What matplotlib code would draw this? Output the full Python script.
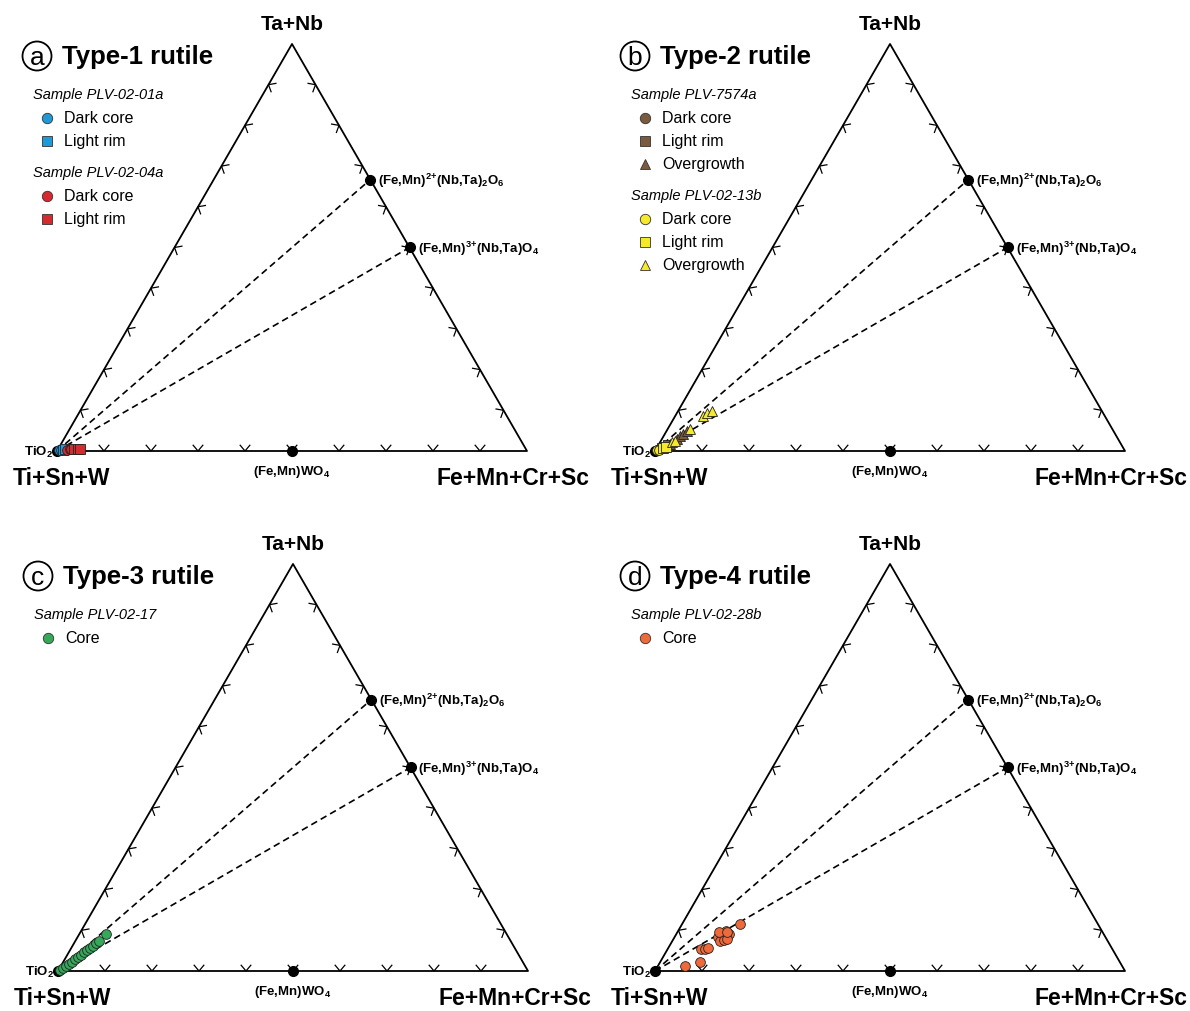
import numpy as np
import matplotlib
matplotlib.use("Agg")
import matplotlib.pyplot as plt
from matplotlib.patches import Circle

plt.rcParams['font.family'] = ['Liberation Sans', 'DejaVu Sans']
plt.rcParams['mathtext.default'] = 'regular'

# compositions are (Fe+Mn+Cr+Sc fraction, Ta+Nb fraction), rest is Ti+Sn+W
end_members = {
    "TiO$_2$": (0.0, 0.0),
    "(Fe,Mn)WO$_4$": (0.5, 0.0),
    "(Fe,Mn)$^{2{+}}$(Nb,Ta)$_2$O$_6$": (1/3, 2/3),
    "(Fe,Mn)$^{3{+}}$(Nb,Ta)O$_4$": (0.5, 0.5),
}
tie_lines = ["(Fe,Mn)$^{2{+}}$(Nb,Ta)$_2$O$_6$", "(Fe,Mn)$^{3{+}}$(Nb,Ta)O$_4$"]

# panel a - Type-1
a_blue_circle_fe = [0.003, 0.006]
a_blue_circle_tanb = [0.002, 0.003]
a_blue_square_fe = [0.011, 0.014]
a_blue_square_tanb = [0.003, 0.004]
a_red_circle_fe = [0.020, 0.025, 0.028]
a_red_circle_tanb = [0.003, 0.005, 0.004]
a_red_square_fe = [0.035, 0.042, 0.047]
a_red_square_tanb = [0.004, 0.006, 0.005]

# panel b - Type-2
b_brown_circle_fe = [0.003, 0.006, 0.009]
b_brown_circle_tanb = [0.002, 0.004, 0.005]
b_brown_square_fe = [0.011, 0.016, 0.021]
b_brown_square_tanb = [0.007, 0.010, 0.015]
b_brown_tri_fe = [0.023, 0.032, 0.035, 0.039, 0.043]
b_brown_tri_tanb = [0.017, 0.029, 0.037, 0.042, 0.049]
b_yellow_circle_fe = [0.004, 0.008]
b_yellow_circle_tanb = [0.002, 0.003]
b_yellow_square_fe = [0.013, 0.018]
b_yellow_square_tanb = [0.007, 0.011]
b_yellow_tri_fe = [0.025, 0.031, 0.047, 0.059, 0.064, 0.072]
b_yellow_tri_tanb = [0.022, 0.025, 0.054, 0.086, 0.093, 0.098]

# panel c - Type-3
c_core_fe = [0.003, 0.007, 0.011, 0.015, 0.019, 0.021, 0.025, 0.029,
             0.032, 0.036, 0.040, 0.044, 0.046, 0.050, 0.057]
c_core_tanb = [0.003, 0.007, 0.012, 0.017, 0.022, 0.030, 0.034, 0.039,
               0.047, 0.052, 0.057, 0.061, 0.069, 0.074, 0.091]

# panel d - Type-4
d_core_fe = [0.058, 0.085, 0.071, 0.079, 0.085, 0.092, 0.097, 0.102,
             0.112, 0.101, 0.109, 0.114, 0.088, 0.105, 0.123]
d_core_tanb = [0.012, 0.022, 0.054, 0.054, 0.057, 0.084, 0.091, 0.098,
               0.091, 0.074, 0.076, 0.079, 0.096, 0.096, 0.115]

BLUE = '#1f9ad6'
RED = '#d42a30'
BROWN = '#7b5b3f'
YELLOW = '#f5ea2a'
GREEN = '#36a85a'
ORANGE = '#ee6a3a'

panels = [
    dict(letter="a", title="Type-1 rutile", origin=(57, 452), box=(0, 0),
         groups=[("Sample PLV-02-01a", [
                     ("o", BLUE, "Dark core", a_blue_circle_fe, a_blue_circle_tanb),
                     ("s", BLUE, "Light rim", a_blue_square_fe, a_blue_square_tanb)]),
                 ("Sample PLV-02-04a", [
                     ("o", RED, "Dark core", a_red_circle_fe, a_red_circle_tanb),
                     ("s", RED, "Light rim", a_red_square_fe, a_red_square_tanb)])]),
    dict(letter="b", title="Type-2 rutile", origin=(655, 452), box=(595, 0),
         groups=[("Sample PLV-7574a", [
                     ("o", BROWN, "Dark core", b_brown_circle_fe, b_brown_circle_tanb),
                     ("s", BROWN, "Light rim", b_brown_square_fe, b_brown_square_tanb),
                     ("^", BROWN, "Overgrowth", b_brown_tri_fe, b_brown_tri_tanb)]),
                 ("Sample PLV-02-13b", [
                     ("o", YELLOW, "Dark core", b_yellow_circle_fe, b_yellow_circle_tanb),
                     ("s", YELLOW, "Light rim", b_yellow_square_fe, b_yellow_square_tanb),
                     ("^", YELLOW, "Overgrowth", b_yellow_tri_fe, b_yellow_tri_tanb)])]),
    dict(letter="c", title="Type-3 rutile", origin=(58, 972), box=(0, 506),
         groups=[("Sample PLV-02-17", [
                     ("o", GREEN, "Core", c_core_fe, c_core_tanb)])]),
    dict(letter="d", title="Type-4 rutile", origin=(655, 972), box=(595, 506),
         groups=[("Sample PLV-02-28b", [
                     ("o", ORANGE, "Core", d_core_fe, d_core_tanb)])]),
]

W, H = 1190, 1012
SIDE = 470.0  # pixels per unit side
H3 = np.sqrt(3) / 2


def tern(fe, tanb):
    fe = np.asarray(fe, float)
    tanb = np.asarray(tanb, float)
    return fe + tanb / 2, tanb * H3


def px(dx, dy):
    # pixel offset from the Ti corner -> data units
    return dx / SIDE, -dy / SIDE


fig = plt.figure(figsize=(W / 100, H / 100), dpi=100)

for p in panels:
    vx, vy = p["origin"]
    bx, by = p["box"]
    ax = fig.add_axes([bx / W, 1 - (by + 506) / H, 595 / W, 506 / H])
    ax.set_xlim((bx - vx) / SIDE, (bx + 595 - vx) / SIDE)
    ax.set_ylim((vy - by - 506) / SIDE, (vy - by) / SIDE)
    ax.axis("off")

    corners = np.array([[0, 0], [1, 0], [0.5, H3]])
    tri = np.vstack([corners, corners[:1]])
    ax.plot(tri[:, 0], tri[:, 1], color="black", lw=1.3, zorder=2)

    # chevron ticks at every 10 %
    L = 0.016
    ang = np.deg2rad(40)
    centroid = corners.mean(axis=0)
    for i in range(3):
        A, B = corners[i], corners[(i + 1) % 3]
        u = (B - A) / np.linalg.norm(B - A)
        n = np.array([-u[1], u[0]])
        if np.dot(centroid - A, n) < 0:
            n = -n
        for t in np.arange(1, 10) / 10:
            P = A + t * (B - A)
            p1 = P + L * (n * np.cos(ang) + u * np.sin(ang))
            p2 = P + L * (n * np.cos(ang) - u * np.sin(ang))
            ax.plot([p1[0], P[0], p2[0]], [p1[1], P[1], p2[1]],
                    color="black", lw=0.9, zorder=2)

    # tie lines from TiO2
    for name in tie_lines:
        ex, ey = tern(*end_members[name])
        ax.plot([0, ex], [0, ey], color="black", lw=1.2, ls=(0, (4, 2.5)), zorder=2)

    for name, (fe, tanb) in end_members.items():
        ex, ey = tern(fe, tanb)
        ax.plot(ex, ey, "o", color="black", ms=7, zorder=3)
        if name.startswith("TiO"):
            ax.text(ex - 4 / SIDE, ey, name, ha="right", va="center",
                    fontsize=9.5, fontweight="bold")
        elif "WO" in name:
            ax.text(ex, ey - 12 / SIDE, name, ha="center", va="top",
                    fontsize=9.5, fontweight="bold")
        else:
            ax.text(ex + 8 / SIDE, ey, name, ha="left", va="center",
                    fontsize=9.5, fontweight="bold")

    # corner labels
    ax.text(0.5, H3 + 20 / SIDE, "Ta+Nb", ha="center", va="center",
            fontsize=15, fontweight="bold")
    ax.text(-44 / SIDE, -27 / SIDE, "Ti+Sn+W", ha="left", va="center",
            fontsize=16.5, fontweight="bold")
    ax.text(1 + 63 / SIDE, -27 / SIDE, "Fe+Mn+Cr+Sc", ha="right", va="center",
            fontsize=16.5, fontweight="bold")

    # panel title
    cx, cy = px(-20, -395)
    ax.add_patch(Circle((cx, cy), 14.5 / SIDE, fill=False, lw=1.3, color="black"))
    ax.text(cx, cy - 1 / SIDE, p["letter"], ha="center", va="center", fontsize=19)
    tx, ty = px(5, -395)
    ax.text(tx, ty, p["title"], ha="left", va="center", fontsize=18.5,
            fontweight="bold")

    # data + hand made legend
    row = -357
    for sample, entries in p["groups"]:
        sx, sy = px(-24, row)
        ax.text(sx, sy, sample, ha="left", va="center", fontsize=10.5,
                style="italic")
        row += 24
        for marker, colour, label, fe, tanb in entries:
            x, y = tern(fe, tanb)
            ms = 7.5 if marker == "^" else 7
            ax.plot(x, y, marker, ls="none", ms=ms, mfc=colour, mec="#222222",
                    mew=0.6, zorder=4)
            mx, my = px(-10, row)
            ax.plot(mx, my, marker, ms=7.5, mfc=colour, mec="#333333", mew=0.6)
            lx, ly = px(7, row)
            ax.text(lx, ly, label, ha="left", va="center", fontsize=11.5)
            row += 23
        row += 8

fig.savefig("out.png", dpi=100)
